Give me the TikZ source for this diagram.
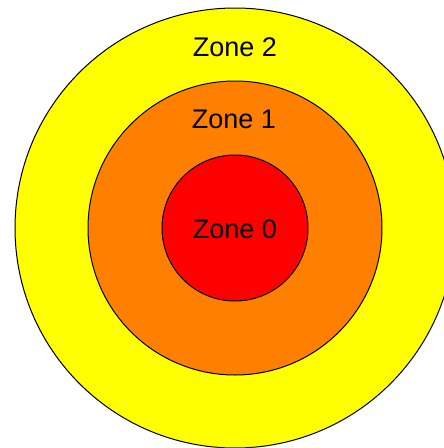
\documentclass[tikz,border=0pt]{standalone}
\usepackage{fontspec}
\setmainfont{Liberation Sans}
\definecolor{zyellow}{HTML}{FFFF00}
\definecolor{zorange}{HTML}{FF8000}
\definecolor{zred}{HTML}{FF0000}
\begin{document}
\begin{tikzpicture}[x=1pt,y=-1pt,
  zone/.style={draw=black,line width=1pt},
  label/.style={font=\fontsize{27}{30}\selectfont,anchor=base,inner sep=0pt}]
\useasboundingbox (0,0) rectangle (444,448);
\begin{scope}
\clip (0,0) rectangle (444,448);
\path[zone,fill=zyellow] (235,228) circle[radius=220];
\path[zone,fill=zorange] (235,228) circle[radius=147];
\path[zone,fill=zred] (235,228) circle[radius=73];
\end{scope}
\node[label] (z2) at (235,56) {Zone 2};
\node[label] (z1) at (234,128) {Zone 1};
\node[label] (z0) at (235,238) {Zone 0};
\end{tikzpicture}
\end{document}
